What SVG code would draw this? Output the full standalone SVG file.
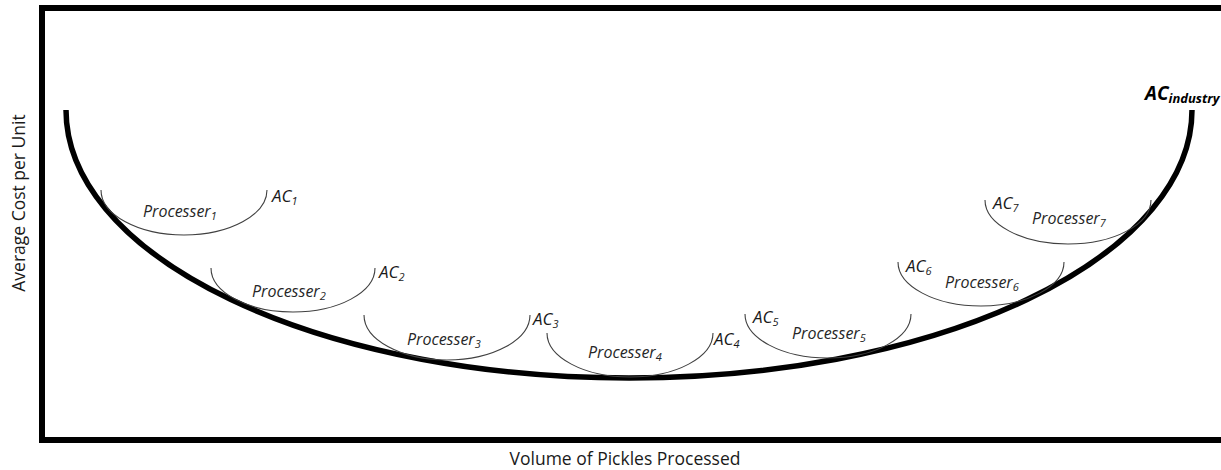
<svg xmlns="http://www.w3.org/2000/svg" width="1221" height="470" viewBox="0 0 1221 470">
  <style>
    .frame { fill: none; stroke: #000; stroke-width: 6; }
    .big { fill: none; stroke: #000; stroke-width: 5.5; stroke-linecap: butt; }
    .arc { fill: none; stroke: #404040; stroke-width: 1.1; }
    .lbl { font-family: "Open Sans", "Liberation Sans", sans-serif; font-style: italic; font-size: 16px; fill: #262626; }
    .ac { font-family: "Open Sans", "Liberation Sans", sans-serif; font-style: italic; font-size: 17px; fill: #1a1a1a; }
    .sub { font-size: 11px; }
    .axis { font-family: "Open Sans", "Liberation Sans", sans-serif; font-size: 17.5px; fill: #1a1a1a; }
    .ind { font-family: "Open Sans", "Liberation Sans", sans-serif; font-style: italic; font-weight: bold; font-size: 19px; fill: #000; }
  </style>
  <rect width="1221" height="470" fill="#fff"/>
  <g id="axes">
    <rect class="frame" x="42" y="8" width="1200" height="432"/>
    <text class="axis" transform="translate(25,203) rotate(-90)" text-anchor="middle">Average Cost per Unit</text>
    <text class="axis" x="625" y="465" text-anchor="middle">Volume of Pickles Processed</text>
  </g>
  <g id="industry">
    <path class="big" d="M 66 110 A 563 268 0 0 0 1192 110"/>
    <text class="ind" x="1145" y="100">AC<tspan font-size="13" dy="3">industry</tspan></text>
  </g>
  <g id="processer1">
    <path class="arc" d="M 101 190 A 83 45 0 0 0 267 190"/>
    <text class="lbl" x="143" y="217">Processer<tspan class="sub" dy="3">1</tspan></text>
    <text class="ac" x="272" y="202">AC<tspan class="sub" dy="3">1</tspan></text>
  </g>
  <g id="processer2">
    <path class="arc" d="M 211 268 A 82 44 0 0 0 375 268"/>
    <text class="lbl" x="252" y="297">Processer<tspan class="sub" dy="3">2</tspan></text>
    <text class="ac" x="379" y="278">AC<tspan class="sub" dy="3">2</tspan></text>
  </g>
  <g id="processer3">
    <path class="arc" d="M 364 315 A 83 45 0 0 0 530 315"/>
    <text class="lbl" x="407" y="345">Processer<tspan class="sub" dy="3">3</tspan></text>
    <text class="ac" x="533" y="325">AC<tspan class="sub" dy="3">3</tspan></text>
  </g>
  <g id="processer4">
    <path class="arc" d="M 547 333 A 83 44 0 0 0 713 333"/>
    <text class="lbl" x="588" y="358">Processer<tspan class="sub" dy="3">4</tspan></text>
    <text class="ac" x="714" y="345">AC<tspan class="sub" dy="3">4</tspan></text>
  </g>
  <g id="processer5">
    <path class="arc" d="M 745 314 A 83 44 0 0 0 911 314"/>
    <text class="ac" x="753" y="323">AC<tspan class="sub" dy="3">5</tspan></text>
    <text class="lbl" x="792" y="339">Processer<tspan class="sub" dy="3">5</tspan></text>
  </g>
  <g id="processer6">
    <path class="arc" d="M 898 262 A 83 44 0 0 0 1064 262"/>
    <text class="ac" x="906" y="272">AC<tspan class="sub" dy="3">6</tspan></text>
    <text class="lbl" x="945" y="288">Processer<tspan class="sub" dy="3">6</tspan></text>
  </g>
  <g id="processer7">
    <path class="arc" d="M 985 200 A 83 44 0 0 0 1151 200"/>
    <text class="ac" x="993" y="209">AC<tspan class="sub" dy="3">7</tspan></text>
    <text class="lbl" x="1032" y="224">Processer<tspan class="sub" dy="3">7</tspan></text>
  </g>
  <g id="connectors"></g>
</svg>
